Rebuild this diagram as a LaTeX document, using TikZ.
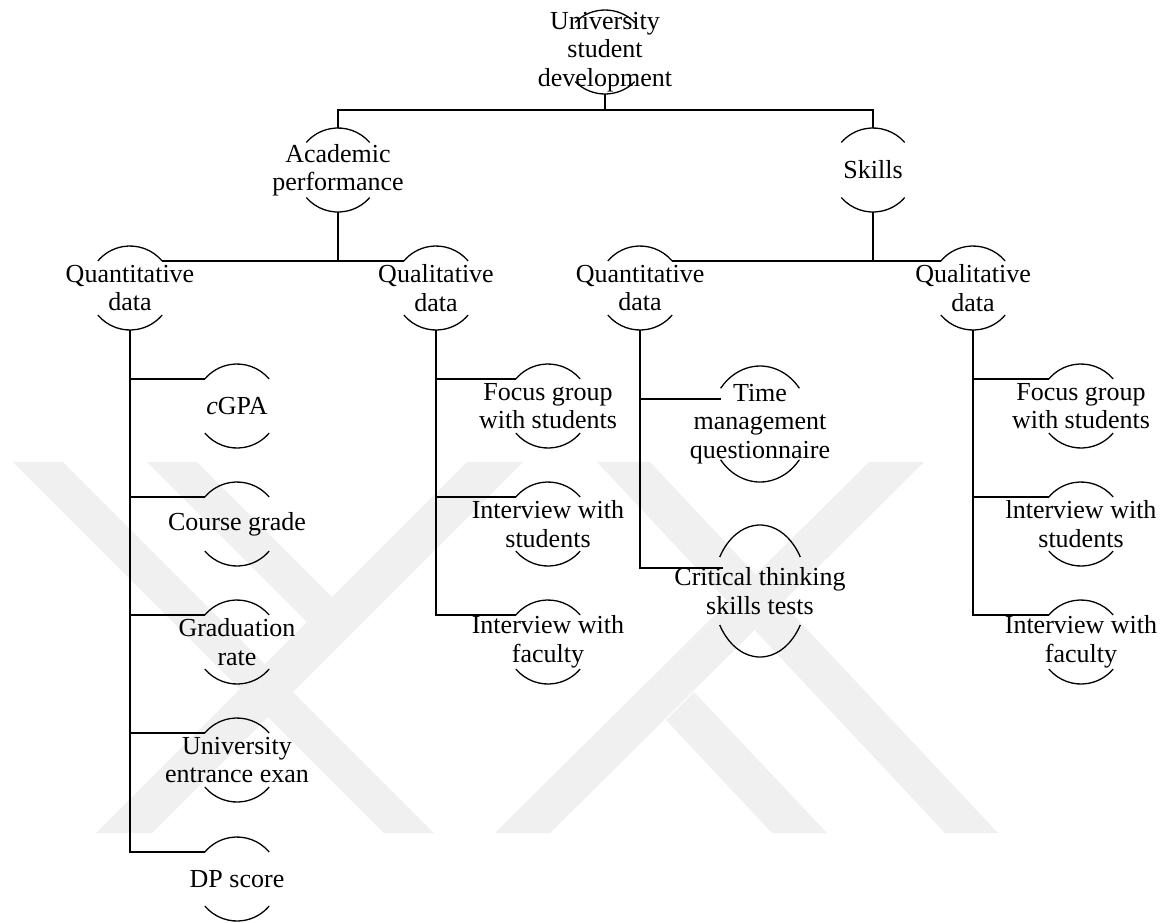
\documentclass[tikz,border=0pt]{standalone}
\usepackage{fontspec}
\setmainfont{Liberation Serif}
\usetikzlibrary{calc}
\definecolor{wm}{gray}{0.94}
\tikzset{
  lbl/.style={font=\fontsize{26}{28.5}\selectfont, align=center, inner sep=0pt},
  conn/.style={line width=1.8pt},
  arcline/.style={line width=1.3pt},
  wmark/.style={fill=wm, draw=none}
}
% name, x, y (px, downwards), x radius, y radius, arc angle, text
\newcommand{\capnode}[7]{%
  \node[lbl] (#1) at (#2,-#3) {#7};
  \coordinate (#1-top) at ($(#1.center)+(0,#5)$);
  \coordinate (#1-bot) at ($(#1.center)+(0,-#5)$);
  \coordinate (#1-tl) at ($(#1.center)+(180-#6:#4pt and #5pt)$);
  \coordinate (#1-tr) at ($(#1.center)+(#6:#4pt and #5pt)$);
  \draw[arcline] (#1-tr) arc[start angle=#6, end angle=180-#6, x radius=#4pt, y radius=#5pt];
  \draw[arcline] ($(#1.center)+(180+#6:#4pt and #5pt)$) arc[start angle=180+#6, end angle=360-#6, x radius=#4pt, y radius=#5pt];
}
\begin{document}
\begin{tikzpicture}[x=1pt, y=1pt]
\fill[white] (0,0) rectangle (1169,-922);
\useasboundingbox (0,0) rectangle (1169,-922);

% watermark
\fill[wmark] (13,-462) -- (63,-462) -- (434,-833) -- (384,-833) -- cycle;
\fill[wmark] (467,-462) -- (523,-462) -- (152,-833) -- (96,-833) -- cycle;
\fill[wmark] (147,-462) -- (197,-462) -- (332,-597) -- (307,-622) -- cycle;
\fill[wmark] (597,-462) -- (650,-462) -- (998,-833) -- (945,-833) -- cycle;
\fill[wmark] (869,-462) -- (924,-462) -- (550,-833) -- (495,-833) -- cycle;
\fill[wmark] (772,-833) -- (827,-833) -- (694,-692) -- (666,-720) -- cycle;

% nodes
\capnode{top}{605}{52}{42}{42}{45}{University\\student\\development}
\capnode{acad}{338}{170}{42}{42}{41}{Academic\\performance}
\capnode{skills}{873}{170}{42}{42}{41}{Skills}
\capnode{qnL}{130}{288}{42}{42}{40}{Quantitative\\data}
\capnode{qlL}{436}{288}{42}{42}{40}{Qualitative\\data}
\capnode{qnR}{640}{288}{42}{42}{40}{Quantitative\\data}
\capnode{qlR}{973}{288}{42}{42}{40}{Qualitative\\data}

\capnode{cgpa}{237}{406}{42}{42}{40}{\textit{c}GPA}
\capnode{course}{237}{524}{42}{42}{40}{Course grade}
\capnode{grad}{237}{642}{42}{42}{40}{Graduation\\rate}
\capnode{uee}{237}{760}{42}{42}{40}{University\\entrance exan}
\capnode{dp}{237}{879}{42}{42}{40}{DP score}

\capnode{fgL}{548}{406}{42}{42}{40}{Focus group\\with students}
\capnode{iwsL}{548}{524}{42}{42}{40}{Interview with\\students}
\capnode{iwfL}{548}{642}{42}{42}{40}{Interview with\\faculty}

\capnode{time}{760}{424}{50}{58}{38}{Time\\management\\questionnaire}
\capnode{crit}{760}{591}{47}{66}{31}{Critical thinking\\skills tests}

\capnode{fgR}{1081}{406}{42}{42}{40}{Focus group\\with students}
\capnode{iwsR}{1081}{524}{42}{42}{40}{lnterview with\\students}
\capnode{iwfR}{1081}{642}{42}{42}{40}{Interview with\\faculty}

% connectors
\coordinate (j1) at (605,-110);
\coordinate (time-in) at ($(time-tl)+(0,-11)$);
\coordinate (crit-in) at ($(crit-tl)+(3,-11)$);
\draw[conn] (top-bot) -- (j1);
\draw[conn] (acad-top) |- (j1) -| (skills-top);
\draw[conn] (acad-bot) -- (acad-bot |- qnL-tr);
\draw[conn] (qnL-tr) -- (qlL-tl);
\draw[conn] (skills-bot) -- (skills-bot |- qnR-tr);
\draw[conn] (qnR-tr) -- (qlR-tl);

\draw[conn] (qnL-bot) |- (cgpa-tl);
\draw[conn] (qnL-bot) |- (course-tl);
\draw[conn] (qnL-bot) |- (grad-tl);
\draw[conn] (qnL-bot) |- (uee-tl);
\draw[conn] (qnL-bot) |- (dp-tl);

\draw[conn] (qlL-bot) |- (fgL-tl);
\draw[conn] (qlL-bot) |- (iwsL-tl);
\draw[conn] (qlL-bot) |- (iwfL-tl);

\draw[conn] (qnR-bot) |- (time-in);
\draw[conn] (qnR-bot) |- (crit-in);

\draw[conn] (qlR-bot) |- (fgR-tl);
\draw[conn] (qlR-bot) |- (iwsR-tl);
\draw[conn] (qlR-bot) |- (iwfR-tl);
\end{tikzpicture}
\end{document}
